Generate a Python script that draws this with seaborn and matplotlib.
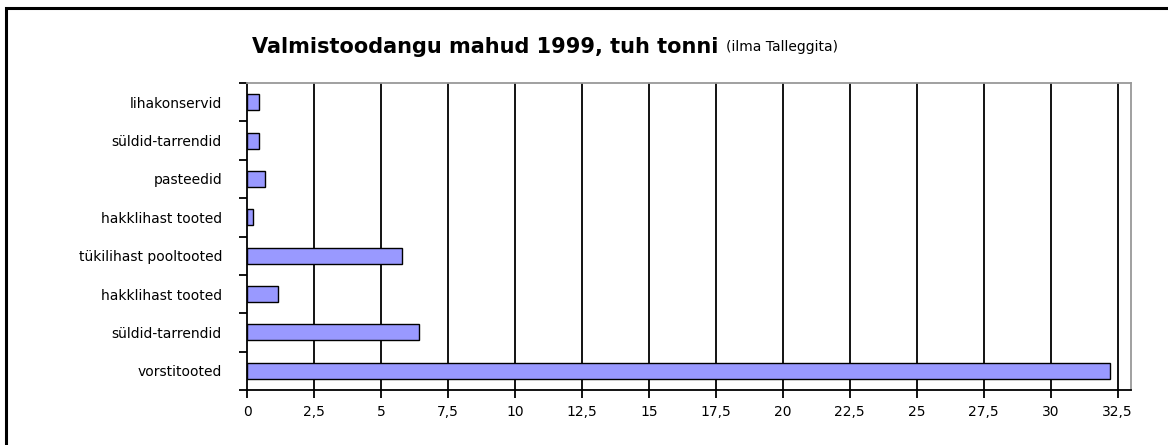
import numpy as np
import pandas as pd
import matplotlib
matplotlib.use("Agg")
import matplotlib.pyplot as plt
import seaborn as sns
from matplotlib.patches import Rectangle

# ── Data ──────────────────────────────────────
categories = [
    "lihakonservid",
    "süldid-tarrendid",
    "pasteedid",
    "hakklihast tooted",
    "tükilihast pooltooted",
    "hakklihast tooted",
    "süldid-tarrendid",
    "vorstitooted",
]
values = [0.45, 0.45, 0.67, 0.22, 5.77, 1.15, 6.43, 32.2]
x_ticks = [0, 2.5, 5, 7.5, 10, 12.5, 15, 17.5, 20, 22.5, 25, 27.5, 30, 32.5]
x_tick_labels = [f"{t:g}".replace(".", ",") for t in x_ticks]

# duplicates in the labels -> unique keys for seaborn's categorical axis
keys = [f"{i}_{c}" for i, c in enumerate(categories)]
df = pd.DataFrame({"key": keys, "value": values})

sns.set_style("white")
plt.rcParams["font.family"] = ["DejaVu Sans"]
plt.rcParams["text.color"] = "black"
plt.rcParams["xtick.color"] = "black"
plt.rcParams["ytick.color"] = "black"

fig = plt.figure(figsize=(11.68, 4.45), dpi=100)
ax = fig.add_axes([247 / 1168, 1 - 390 / 445, (1131 - 247) / 1168, (390 - 83) / 445])

sns.barplot(
    data=df, x="value", y="key", order=keys, orient="h",
    color="#9999FF", saturation=1, width=0.42,
    edgecolor="black", linewidth=1.0, ax=ax, zorder=3,
)

ax.set_xlim(0, 33)
ax.set_ylim(len(keys) - 0.5, -0.5)
ax.set_xlabel("")
ax.set_ylabel("")

# gridlines
for t in x_ticks[1:]:
    ax.axvline(t, color="black", lw=1.3, zorder=1)

ax.set_xticks(x_ticks)
ax.set_xticklabels(x_tick_labels, fontsize=10)
ax.set_yticks(range(len(keys)))
ax.set_yticklabels(categories, fontsize=10)
ax.set_yticks(np.arange(-0.5, len(keys)), minor=True)
ax.tick_params(axis="y", which="major", length=0, pad=18)
ax.tick_params(axis="y", which="minor", length=6, width=1.3, color="black", left=True)
ax.tick_params(axis="x", which="major", length=6, width=1.3, color="black",
               bottom=True, pad=5)

for side in ("left", "bottom"):
    ax.spines[side].set_color("black")
    ax.spines[side].set_linewidth(1.3)
for side in ("top", "right"):
    ax.spines[side].set_color("#999999")
    ax.spines[side].set_linewidth(1.3)

# ── Title ─────────────────────────────────────
t1 = fig.text(252 / 1168, 1 - 47 / 445, "Valmistoodangu mahud 1999, tuh tonni",
              fontsize=15, fontweight="bold", ha="left", va="center")
fig.canvas.draw()
bb = t1.get_window_extent()
fig.text(bb.x1 / 1168 + 8 / 1168, 1 - 47 / 445, "(ilma Talleggita)",
         fontsize=10, ha="left", va="center")

# outer frame (cut off at right and bottom)
fig.patches.append(Rectangle((6 / 1168, -0.1), 1.2, 1 - 8.5 / 445 + 0.1,
                             transform=fig.transFigure, fill=False,
                             edgecolor="black", lw=2.2))

plt.savefig("out.png", dpi=100)
plt.close()
